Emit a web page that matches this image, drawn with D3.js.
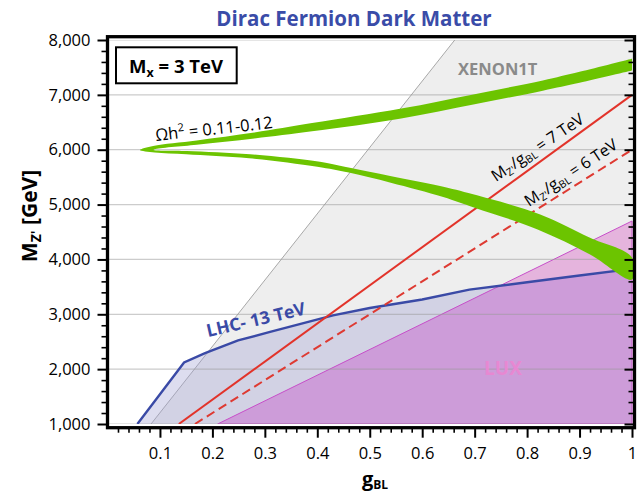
<!DOCTYPE html>
<html>
<head>
<meta charset="utf-8">
<script src="https://cdn.jsdelivr.net/npm/d3@7"></script>
<style>
  body { margin: 0; background: #fff; }
  svg { display: block; font-family: "Open Sans", "Noto Sans", sans-serif; }
</style>
</head>
<body>
<svg id="chart" width="643" height="493"></svg>
<script>
// ---- axis ticks ----
const xTicks = [0.1, 0.2, 0.3, 0.4, 0.5, 0.6, 0.7, 0.8, 0.9, 1];
const yTicks = [1000, 2000, 3000, 4000, 5000, 6000, 7000, 8000];

// ---- exclusion boundaries, [g_BL, M_Z' (GeV)] ----
const xenonBoundary = [[0.083, 1000], [0.662, 8000]];
const lhcBound = [
  [0.057, 1000], [0.146, 2121], [0.186, 2292], [0.249, 2523], [0.31, 2680],
  [0.37, 2830], [0.43, 2980], [0.5, 3115], [0.6, 3270], [0.69, 3450],
  [0.8, 3584], [0.9, 3706], [1.0, 3828]
];
const luxBound = [[0.21, 1000], [1.0, 4700]];

// ---- M_Z'/g_BL reference lines ----
const ratio7 = [[0.136, 1000], [1.0, 7000]];
const ratio6 = [[0.1667, 1000], [1.0, 6000]];

// ---- relic abundance band Ωh² = 0.11–0.12 (outer and inner edges) ----
const relicOuter = [
  [1.0, 7658], [0.9, 7420], [0.83, 7263], [0.7, 7013], [0.56, 6750],
  [0.39, 6485], [0.28, 6315], [0.17, 6170], [0.087, 6069], [0.062, 5995],
  [0.09, 5950], [0.15, 5918], [0.27, 5845], [0.4, 5690], [0.46, 5585],
  [0.54, 5400], [0.64, 5140], [0.7, 4943], [0.82, 4547], [0.92, 4090],
  [1.0, 3633]
];
const relicInner = [
  [1.0, 7442], [0.9, 7220], [0.83, 7077], [0.7, 6827], [0.56, 6570],
  [0.39, 6335], [0.28, 6205], [0.17, 6090], [0.09, 6009], [0.088, 5997],
  [0.151, 5978], [0.272, 5918], [0.405, 5780], [0.462, 5670], [0.539, 5521],
  [0.634, 5338], [0.697, 5186], [0.825, 4821], [0.92, 4395], [1.0, 4035]
];

const svg = d3.select("#chart");

const x = d3.scaleLinear().domain([0, 1]).range([107.5, 632]);
const y = d3.scaleLinear().domain([1000, 8000]).range([424, 40]);

const line = d3.line().x(d => x(d[0])).y(d => y(d[1]));
const smooth = d3.line().x(d => x(d[0])).y(d => y(d[1])).curve(d3.curveCatmullRom.alpha(0.5));
const closed = pts => line(pts) + "Z";

const defs = svg.append("defs");
defs.append("clipPath").attr("id", "plotClip")
  .append("rect")
  .attr("x", x(0)).attr("y", y(8000))
  .attr("width", x(1) - x(0) + 1).attr("height", y(1000) - y(8000));
defs.append("clipPath").attr("id", "lhcClip")
  .append("path").attr("d", closed([...lhcBound, [1, 1000]]));

const plot = svg.append("g").attr("clip-path", "url(#plotClip)");

// XENON1T excluded region
plot.append("path")
  .attr("d", closed([...xenonBoundary, [1, 8000], [1, 1000]]))
  .attr("fill", "#eeeeee");
plot.append("path")
  .attr("d", line(xenonBoundary))
  .attr("fill", "none").attr("stroke", "#a8a8a8").attr("stroke-width", 1);

// LUX excluded region
const luxPoly = closed([...luxBound, [1, 1000]]);
plot.append("path").attr("d", luxPoly).attr("fill", "#e5b4dd");

// LHC excluded region
plot.append("path")
  .attr("d", closed([...lhcBound, [1, 1000]]))
  .attr("fill", "#a0a0d2").attr("fill-opacity", 0.36);

// LUX ∩ LHC
plot.append("g").attr("clip-path", "url(#lhcClip)")
  .append("path").attr("d", luxPoly).attr("fill", "#cd9cd9");

plot.append("path").attr("d", luxPoly)
  .attr("fill", "none").attr("stroke", "#c74fc9").attr("stroke-width", 1);

// horizontal grid
plot.append("g").selectAll("line").data(yTicks).join("line")
  .attr("x1", x(0)).attr("x2", x(1) + 2)
  .attr("y1", d => y(d)).attr("y2", d => y(d))
  .attr("stroke", "#9a9a9a").attr("stroke-opacity", 0.5).attr("stroke-width", 1.2);

// LHC boundary curve
plot.append("path").attr("d", line(lhcBound))
  .attr("fill", "none").attr("stroke", "#3a4aa6").attr("stroke-width", 2.4);

// M_Z'/g_BL lines
plot.append("path").attr("d", line(ratio7))
  .attr("fill", "none").attr("stroke", "#e2332a").attr("stroke-width", 2);
plot.append("path").attr("d", line(ratio6))
  .attr("fill", "none").attr("stroke", "#de3a32").attr("stroke-width", 2)
  .attr("stroke-dasharray", "9,5");

// relic band
plot.append("path")
  .attr("d", smooth([...relicOuter, ...relicInner.slice().reverse()]) + "Z")
  .attr("fill", "#6cc400");

// ---- axes ----
const minorY = d3.range(1000, 8001, 200).filter(v => v % 1000 !== 0);
const minorX = d3.range(0.02, 1.0001, 0.02).map(v => +v.toFixed(2))
  .filter(v => Math.abs(v * 10 - Math.round(v * 10)) > 1e-6);

function styleAxis(g, w) {
  g.select(".domain").remove();
  g.selectAll(".tick line").attr("stroke", "#000").attr("stroke-width", w);
}

const axL = svg.append("g").attr("transform", `translate(${x(0)},0)`)
  .call(d3.axisLeft(y).tickValues(yTicks).tickFormat(d3.format(",")).tickSize(10).tickPadding(7));
styleAxis(axL, 2);
axL.selectAll("text").attr("font-size", 16.5).attr("fill", "#000")
  .attr("font-family", "'Open Sans', sans-serif");
svg.append("g").attr("transform", `translate(${x(0)},0)`)
  .call(d3.axisLeft(y).tickValues(minorY).tickFormat("").tickSize(6))
  .call(g => styleAxis(g, 1.6));

const axR = svg.append("g").attr("transform", "translate(634.5,0)")
  .call(d3.axisLeft(y).tickValues(yTicks).tickFormat("").tickSize(10));
styleAxis(axR, 2);
svg.append("g").attr("transform", "translate(634.5,0)")
  .call(d3.axisLeft(y).tickValues(minorY).tickFormat("").tickSize(6))
  .call(g => styleAxis(g, 1.6));

const axB = svg.append("g").attr("transform", "translate(0,427.7)")
  .call(d3.axisBottom(x).tickValues(xTicks).tickFormat(d => d === 1 ? "1" : d3.format(".1f")(d)).tickSize(10).tickPadding(10));
styleAxis(axB, 2);
axB.selectAll("text").attr("font-size", 16.5).attr("fill", "#000")
  .attr("font-family", "'Open Sans', sans-serif");
svg.append("g").attr("transform", "translate(0,427.7)")
  .call(d3.axisBottom(x).tickValues(minorX).tickFormat("").tickSize(5))
  .call(g => styleAxis(g, 1.6));

// frame
svg.append("rect")
  .attr("x", 107.5).attr("y", 36.7).attr("width", 527).attr("height", 391)
  .attr("fill", "none").attr("stroke", "#000").attr("stroke-width", 3.3);

// ---- text ----
svg.append("text")
  .attr("x", 354).attr("y", 26).attr("text-anchor", "middle")
  .attr("font-size", 20.5).attr("font-weight", 700).attr("fill", "#3a4ca8")
  .text("Dirac Fermion Dark Matter");

// legend box
svg.append("rect").attr("x", 116).attr("y", 47.3).attr("width", 120.7).attr("height", 36)
  .attr("fill", "#fff").attr("stroke", "#000").attr("stroke-width", 2);
const mx = svg.append("text").attr("x", 176).attr("y", 72.5).attr("text-anchor", "middle")
  .attr("font-size", 18.5).attr("font-weight", 700).attr("fill", "#000");
mx.append("tspan").text("M");
mx.append("tspan").attr("font-size", 12.5).attr("dy", 4).text("x");
mx.append("tspan").attr("dy", -4).text(" = 3 TeV");

// region labels
svg.append("text").attr("x", 497.7).attr("y", 75).attr("text-anchor", "middle")
  .attr("font-size", 16.5).attr("font-weight", 700).attr("fill", "#8a8a8a")
  .text("XENON1T");
svg.append("text").attr("x", 503).attr("y", 375).attr("text-anchor", "middle")
  .attr("font-size", 19).attr("font-weight", 700).attr("fill", "#e788d2")
  .text("LUX");
svg.append("text").attr("transform", "translate(208,337) rotate(-13)")
  .attr("font-size", 17.5).attr("font-weight", 700).attr("fill", "#3a4aa6")
  .text("LHC- 13 TeV");

// relic label
const om = svg.append("text").attr("transform", "translate(156,141) rotate(-6.3)")
  .attr("font-size", 16.5).attr("fill", "#000");
om.append("tspan").text("Ωh");
om.append("tspan").attr("font-size", 11).attr("dy", -7).text("2");
om.append("tspan").attr("dy", 7).text(" = 0.11-0.12");

// ratio labels
function ratioLabel(tx, ty, ang, val) {
  const t = svg.append("text").attr("transform", `translate(${tx},${ty}) rotate(${ang})`)
    .attr("font-size", 16).attr("fill", "#000");
  t.append("tspan").text("M");
  t.append("tspan").attr("font-size", 10.5).attr("dy", 3).text("Z'");
  t.append("tspan").attr("dy", -3).text("/g");
  t.append("tspan").attr("font-size", 10.5).attr("dy", 3).text("BL");
  t.append("tspan").attr("dy", -3).text(` = ${val} TeV`);
}
ratioLabel(496, 182, -34, 7);
ratioLabel(529, 207, -33.5, 6);

// axis titles
const yt = svg.append("text").attr("transform", "translate(37,216) rotate(-90)")
  .attr("text-anchor", "middle").attr("font-size", 21).attr("font-weight", 700).attr("fill", "#000");
yt.append("tspan").text("M");
yt.append("tspan").attr("font-size", 14).attr("dy", 4).text("Z'");
yt.append("tspan").attr("dy", -4).text(" [GeV]");

const xt = svg.append("text").attr("x", 375).attr("y", 486).attr("text-anchor", "middle")
  .attr("font-weight", 700).attr("fill", "#000");
xt.append("tspan").attr("font-size", 20).text("g");
xt.append("tspan").attr("font-size", 12).attr("dy", 3).text("BL");
</script>
</body>
</html>
